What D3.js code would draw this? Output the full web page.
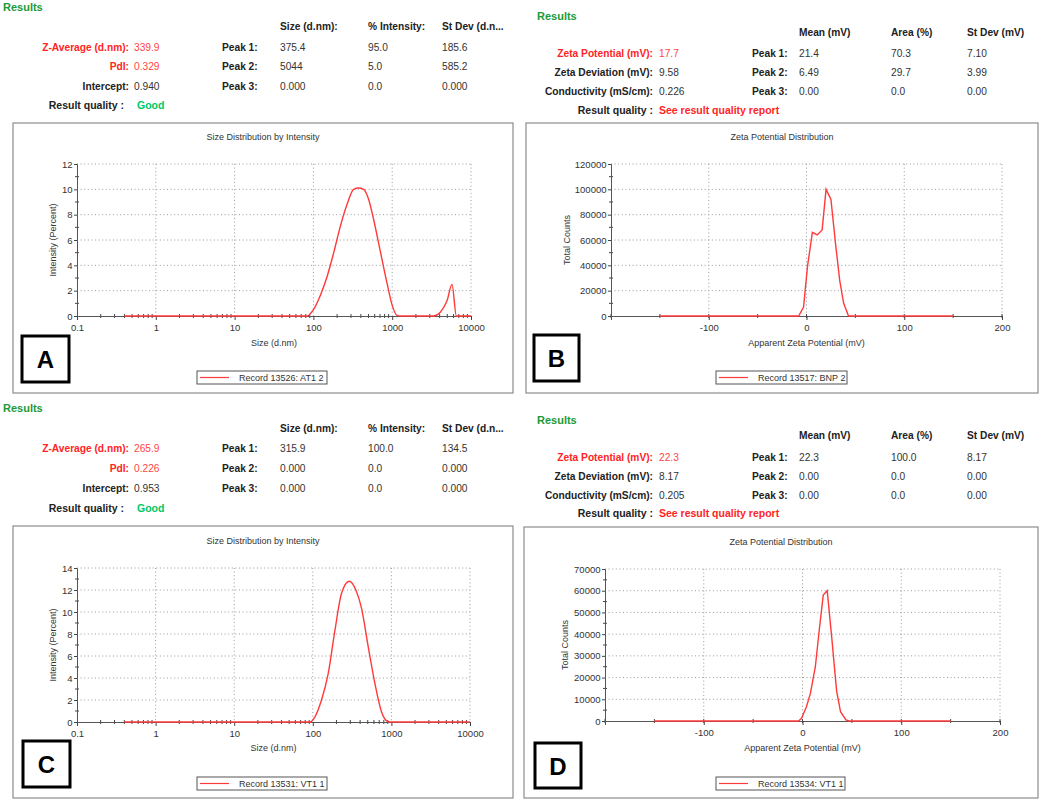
<!DOCTYPE html>
<html>
<head>
<meta charset="utf-8">
<script src="https://cdn.jsdelivr.net/npm/d3@7"></script>
<style>
  body { margin: 0; background: #fff; }
  svg { display: block; font-family: "Liberation Sans", Arial, sans-serif; }
</style>
</head>
<body>
<svg id="chart" width="1052" height="802"></svg>
<script>
// --- panel A: size distribution, record 13526 ---
const sizeA = [0.4, 83, 100, 122, 149, 181, 220, 267, 324, 375, 434, 503, 582, 707, 859, 994, 1150, 1268, 3357, 4080, 4960, 5740, 6520, 10000];
const intensityA = [0, 0, 0.5, 1.6, 3.1, 5.0, 7.1, 8.8, 10.0, 10.1, 10.0, 9.2, 7.6, 5.1, 2.6, 0.9, 0.05, 0, 0, 0.3, 1.2, 2.5, 0, 0];

// --- panel C: size distribution, record 13531 ---
const sizeC = [0.4, 92, 106, 129, 157, 191, 232, 291, 353, 418, 508, 617, 750, 868, 958, 10000];
const intensityC = [0, 0, 0.45, 2.0, 4.4, 8.3, 11.7, 12.8, 12.0, 10.3, 6.8, 3.5, 0.9, 0.1, 0, 0];

// --- panel B: zeta potential, record 13517 ---
const zetaB = [-150, -8, -3, 1, 6, 11, 16, 20, 25, 30, 34, 38, 43, 150];
const countsB = [0, 0, 7000, 39000, 66000, 64000, 68000, 100000, 92000, 55000, 28000, 10000, 0, 0];

// --- panel D: zeta potential, record 13534 ---
const zetaD = [-150, -4, -1, 4, 8, 13, 17, 21, 25, 29.5, 34.5, 38.5, 44, 47, 150];
const countsD = [0, 0, 1200, 6600, 12700, 25000, 42000, 58000, 60000, 39000, 14000, 4300, 500, 0, 0];

// ticks
const sizeTicks = [0.1, 1, 10, 100, 1000, 10000];
const sizeTickLabels = ["0.1", "1", "10", "100", "1000", "10000"];
const intensityTicksA = [0, 2, 4, 6, 8, 10, 12];
const intensityTicksC = [0, 2, 4, 6, 8, 10, 12, 14];
const zetaTicks = [-100, 0, 100, 200];
const zetaMinorTicks = [-200, -150, -100, -50, 0, 50, 100, 150, 200];
const countTicksB = [0, 20000, 40000, 60000, 80000, 100000, 120000];
const countTicksD = [0, 10000, 20000, 30000, 40000, 50000, 60000, 70000];

// header tables
const sizeCols = ["Size (d.nm):", "% Intensity:", "St Dev (d.n..."];
const zetaCols = ["Mean (mV)", "Area (%)", "St Dev (mV)"];
const summaryA = [["Z-Average (d.nm):", "339.9"], ["PdI:", "0.329"], ["Intercept:", "0.940"]];
const peaksA = [["375.4", "95.0", "185.6"], ["5044", "5.0", "585.2"], ["0.000", "0.0", "0.000"]];
const summaryC = [["Z-Average (d.nm):", "265.9"], ["PdI:", "0.226"], ["Intercept:", "0.953"]];
const peaksC = [["315.9", "100.0", "134.5"], ["0.000", "0.0", "0.000"], ["0.000", "0.0", "0.000"]];
const summaryB = [["Zeta Potential (mV):", "17.7"], ["Zeta Deviation (mV):", "9.58"], ["Conductivity (mS/cm):", "0.226"]];
const peaksB = [["21.4", "70.3", "7.10"], ["6.49", "29.7", "3.99"], ["0.00", "0.0", "0.00"]];
const summaryD = [["Zeta Potential (mV):", "22.3"], ["Zeta Deviation (mV):", "8.17"], ["Conductivity (mS/cm):", "0.205"]];
const peaksD = [["22.3", "100.0", "8.17"], ["0.00", "0.0", "0.00"], ["0.00", "0.0", "0.00"]];

const svg = d3.select("#chart");
const red = "#ff2424";
const green = "#1b9a38";
const lineRed = "#ff3a3a";

function txt(g, x, y, s, o = {}) {
  return g.append("text")
    .attr("x", x).attr("y", y).attr("dy", "0.35em")
    .attr("text-anchor", o.anchor || "start")
    .style("font-size", (o.size || 10.2) + "px")
    .style("font-weight", o.bold ? "bold" : "normal")
    .style("fill", o.color || "#222")
    .text(s);
}

function drawHeader(lay, cols, summary, peaks, redRows, quality, qualityColor) {
  const g = svg.append("g");
  txt(g, lay.resX, lay.rows[0], "Results", { bold: true, size: 11, color: green });
  cols.forEach((c, i) => txt(g, lay.cols[i], lay.rows[1], c, { bold: true }));
  summary.forEach((s, i) => {
    const r = lay.rows[i + 2];
    const isRed = i < redRows;
    txt(g, lay.labelR, r, s[0], { bold: true, anchor: "end", color: isRed ? red : "#222" });
    txt(g, lay.valX, r, s[1], { color: isRed ? "#ff4545" : "#333" });
    txt(g, lay.peakX, r, "Peak " + (i + 1) + ":", { bold: true });
    peaks[i].forEach((v, j) => txt(g, lay.cols[j], r, v, { color: "#333" }));
  });
  txt(g, lay.qualR, lay.rows[5], "Result quality :", { bold: true, size: 10.5, anchor: "end" });
  txt(g, lay.qualX, lay.rows[5], quality, { bold: true, size: 10.5, color: qualityColor });
}

function drawPanel(p) {
  const g = svg.append("g");
  g.append("rect")
    .attr("x", p.box[0]).attr("y", p.box[1])
    .attr("width", p.box[2]).attr("height", p.box[3])
    .attr("fill", "#fff").attr("stroke", "#8c8c8c").attr("stroke-width", 1.2);

  const x = p.log
    ? d3.scaleLog().domain(p.xDomain).range([p.left, p.right])
    : d3.scaleLinear().domain(p.xDomain).range([p.left, p.right]);
  const y = d3.scaleLinear().domain(p.yDomain).range([p.bottom, p.top]);

  // dotted grid
  g.selectAll(".vg").data(p.xGrid).join("line")
    .attr("x1", d => x(d)).attr("x2", d => x(d))
    .attr("y1", p.top).attr("y2", p.bottom)
    .attr("stroke", "#9a9a9a").attr("stroke-dasharray", "1,2.6");
  g.selectAll(".hg").data(p.yTicks.slice(1)).join("line")
    .attr("x1", p.left).attr("x2", p.right)
    .attr("y1", d => y(d)).attr("y2", d => y(d))
    .attr("stroke", "#9a9a9a").attr("stroke-dasharray", "1,2.6");

  // minor ticks
  g.selectAll(".mx").data(p.xMinor).join("line")
    .attr("x1", d => x(d)).attr("x2", d => x(d))
    .attr("y1", p.bottom - 2).attr("y2", p.bottom + 2)
    .attr("stroke", "#444");
  g.selectAll(".my").data(p.yMinor).join("line")
    .attr("x1", p.left - 2).attr("x2", p.left + 2)
    .attr("y1", d => y(d)).attr("y2", d => y(d))
    .attr("stroke", "#444");

  const xAxis = d3.axisBottom(x).tickValues(p.xTicks).tickSize(4).tickPadding(4)
    .tickFormat((d, i) => p.xLabels[i]);
  const yAxis = d3.axisLeft(y).tickValues(p.yTicks).tickSize(3).tickPadding(1.5)
    .tickFormat(d3.format("d"));

  const gx = g.append("g").attr("transform", `translate(0,${p.bottom})`).call(xAxis);
  const gy = g.append("g").attr("transform", `translate(${p.left},0)`).call(yAxis);
  [gx, gy].forEach(a => {
    a.attr("font-family", null).attr("font-size", null);
    a.select(".domain").attr("stroke", "#555");
    a.selectAll(".tick line").attr("stroke", "#444");
    a.selectAll("text").style("font-size", "9.5px").style("fill", "#333");
  });

  // data line
  const line = d3.line()
    .x(d => x(d[0]))
    .y(d => y(d[1]))
    .curve(p.log ? d3.curveMonotoneX : d3.curveLinear);
  g.append("path")
    .datum(d3.zip(p.xs, p.ys))
    .attr("d", line)
    .attr("fill", "none")
    .attr("stroke", lineRed)
    .attr("stroke-width", 1.4);

  // titles
  const bx = p.box[0] + p.box[2] / 2;
  txt(g, bx, p.titleY, p.title, { size: 9, anchor: "middle", color: "#333" });
  txt(g, (p.left + p.right) / 2, p.xTitleY, p.xTitle, { size: 9, anchor: "middle", color: "#333" });
  g.append("text")
    .attr("transform", `translate(${p.yTitleX},${(p.top + p.bottom) / 2}) rotate(-90)`)
    .attr("text-anchor", "middle").attr("dy", "0.35em")
    .style("font-size", "9px").style("fill", "#333")
    .text(p.yTitle);

  // legend
  const [lx, ly, lw, lh] = p.legend;
  g.append("rect").attr("x", lx).attr("y", ly).attr("width", lw).attr("height", lh)
    .attr("fill", "#fff").attr("stroke", "#555").attr("stroke-width", 1);
  g.append("line").attr("x1", lx + 3).attr("x2", lx + 32)
    .attr("y1", ly + lh / 2).attr("y2", ly + lh / 2)
    .attr("stroke", lineRed).attr("stroke-width", 1.2);
  txt(g, lx + 42, ly + lh / 2 + 0.5, p.record, { size: 9, color: "#333" });

  // panel tag
  const [tx, ty, tw, th] = p.tag;
  g.append("rect").attr("x", tx).attr("y", ty).attr("width", tw).attr("height", th)
    .attr("fill", "#fff").attr("stroke", "#000").attr("stroke-width", 3);
  txt(g, tx + tw / 2, ty + th / 2 + 1, p.letter, { size: 24, bold: true, anchor: "middle", color: "#000" });
}

const logMinor = [];
[0.1, 1, 10, 100, 1000].forEach(dec => {
  for (let k = 2; k <= 9; k++) logMinor.push(dec * k);
});

// headers
drawHeader({ resX: 3, rows: [7, 26, 47, 66, 86, 105], labelR: 129, valX: 134, peakX: 222, cols: [280, 368, 442], qualR: 124, qualX: 137 },
  sizeCols, summaryA, peaksA, 2, "Good", "#00c864");
drawHeader({ resX: 3, rows: [408, 428, 448, 468, 488, 508], labelR: 129, valX: 134, peakX: 222, cols: [280, 368, 442], qualR: 124, qualX: 137 },
  sizeCols, summaryC, peaksC, 2, "Good", "#00c864");
drawHeader({ resX: 537, rows: [16, 32, 53, 72, 91, 110], labelR: 653, valX: 659, peakX: 752, cols: [799, 891, 967], qualR: 653, qualX: 659 },
  zetaCols, summaryB, peaksB, 1, "See result quality report", red);
drawHeader({ resX: 537, rows: [420, 435, 457, 476, 495, 513], labelR: 653, valX: 659, peakX: 752, cols: [799, 891, 967], qualR: 653, qualX: 659 },
  zetaCols, summaryD, peaksD, 1, "See result quality report", red);

// plots
drawPanel({
  box: [13, 123, 500, 270], left: 77, right: 471, top: 164, bottom: 316,
  log: true, xDomain: [0.1, 10000], yDomain: [0, 12],
  xTicks: sizeTicks, xLabels: sizeTickLabels, xGrid: sizeTicks.slice(1), xMinor: logMinor,
  yTicks: intensityTicksA, yMinor: d3.range(1, 12, 2),
  xs: sizeA, ys: intensityA,
  title: "Size Distribution by Intensity", titleY: 137,
  xTitle: "Size (d.nm)", xTitleY: 343, yTitle: "Intensity (Percent)", yTitleX: 53,
  legend: [197, 371, 130, 13], record: "Record 13526: AT1 2",
  tag: [22, 336, 47, 46], letter: "A"
});
drawPanel({
  box: [13, 526, 500, 272], left: 77, right: 470, top: 568, bottom: 722,
  log: true, xDomain: [0.1, 10000], yDomain: [0, 14],
  xTicks: sizeTicks, xLabels: sizeTickLabels, xGrid: sizeTicks.slice(1), xMinor: logMinor,
  yTicks: intensityTicksC, yMinor: d3.range(1, 14, 2),
  xs: sizeC, ys: intensityC,
  title: "Size Distribution by Intensity", titleY: 541,
  xTitle: "Size (d.nm)", xTitleY: 748, yTitle: "Intensity (Percent)", yTitleX: 53,
  legend: [197, 777, 130, 13], record: "Record 13531: VT1 1",
  tag: [23, 741, 47, 46], letter: "C"
});
drawPanel({
  box: [526, 123, 512, 270], left: 611, right: 1002, top: 164, bottom: 316,
  log: false, xDomain: [-200, 200], yDomain: [0, 120000],
  xTicks: zetaTicks, xLabels: zetaTicks.map(String), xGrid: zetaTicks, xMinor: zetaMinorTicks,
  yTicks: countTicksB, yMinor: d3.range(10000, 120000, 20000),
  xs: zetaB, ys: countsB,
  title: "Zeta Potential Distribution", titleY: 137,
  xTitle: "Apparent Zeta Potential (mV)", xTitleY: 343, yTitle: "Total Counts", yTitleX: 567,
  legend: [716, 371, 131, 13], record: "Record 13517: BNP 2",
  tag: [534, 335, 45, 46], letter: "B"
});
drawPanel({
  box: [524, 527, 514, 271], left: 605, right: 1000, top: 569, bottom: 721,
  log: false, xDomain: [-200, 200], yDomain: [0, 70000],
  xTicks: zetaTicks, xLabels: zetaTicks.map(String), xGrid: zetaTicks, xMinor: zetaMinorTicks,
  yTicks: countTicksD, yMinor: d3.range(5000, 70000, 10000),
  xs: zetaD, ys: countsD,
  title: "Zeta Potential Distribution", titleY: 542,
  xTitle: "Apparent Zeta Potential (mV)", xTitleY: 748, yTitle: "Total Counts", yTitleX: 565,
  legend: [716, 777, 129, 13], record: "Record 13534: VT1 1",
  tag: [535, 743, 46, 45], letter: "D"
});
</script>
</body>
</html>
